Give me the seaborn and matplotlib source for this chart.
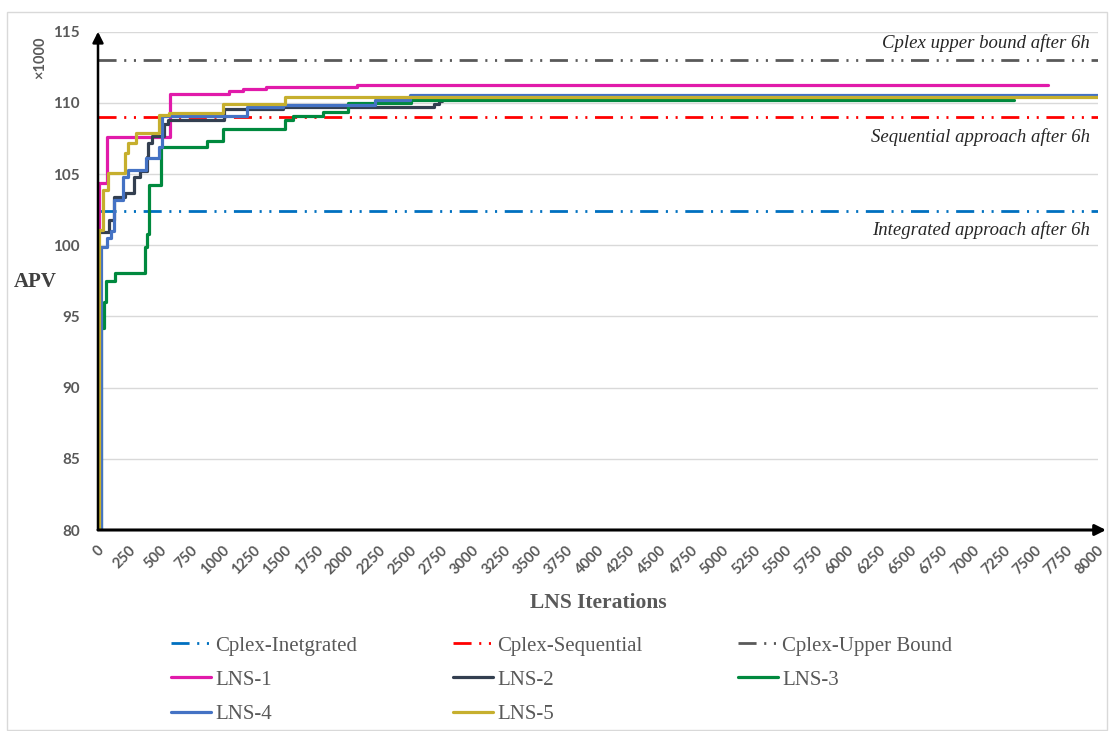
import numpy as np
import pandas as pd
import matplotlib
matplotlib.use("Agg")
import matplotlib.pyplot as plt
import matplotlib.transforms as mtransforms
import seaborn as sns
from matplotlib.patches import Rectangle

sns.set_theme(style="white")
plt.rcParams['font.family'] = ['Liberation Serif', 'DejaVu Serif']
plt.rcParams['lines.scale_dashes'] = False

# ---------------- data ----------------
cplex_labels = ["Cplex-Inetgrated", "Cplex-Sequential", "Cplex-Upper Bound"]
cplex_values = [102.4, 109.0, 113.0]
cplex_x = [0, 8000]

lns1_x = [0, 2, 5, 75, 575, 1050, 1160, 1340, 2070, 7600]
lns1_y = [80, 101.1, 104.4, 107.6, 110.65, 110.85, 111.0, 111.1, 111.25, 111.25]

lns2_x = [0, 3, 90, 130, 215, 290, 335, 390, 400, 430, 530, 560, 1010, 1480, 2690, 2725, 2750]
lns2_y = [80, 100.9, 101.8, 103.4, 103.65, 104.8, 105.2, 106.2, 107.2, 107.7, 108.55, 108.8,
          109.6, 109.7, 109.9, 110.1, 110.1]

lns3_x = [0, 20, 45, 67, 134, 374, 395, 410, 500, 870, 1000, 1494, 1560, 1800, 2000, 2500, 7330]
lns3_y = [80, 94.2, 96.0, 97.5, 98.05, 99.9, 100.8, 104.25, 106.9, 107.3, 108.2, 108.8, 109.05,
          109.37, 110.0, 110.22, 110.22]

lns4_x = [0, 20, 75, 105, 130, 200, 240, 385, 490, 515, 1190, 1480, 2215, 2495, 8000]
lns4_y = [80, 99.9, 100.5, 101.0, 103.2, 104.8, 105.3, 106.1, 106.9, 109.1, 109.7, 109.85,
          110.2, 110.58, 110.58]

lns5_x = [0, 5, 40, 80, 215, 240, 305, 490, 570, 1000, 1495, 8000]
lns5_y = [80, 101.1, 103.9, 105.1, 106.5, 107.2, 107.85, 109.15, 109.3, 109.95, 110.42, 110.42]

lns_labels = ["LNS-1", "LNS-2", "LNS-3", "LNS-4", "LNS-5"]
lns_series = [(lns1_x, lns1_y), (lns2_x, lns2_y), (lns3_x, lns3_y), (lns4_x, lns4_y), (lns5_x, lns5_y)]

x_ticks = list(range(0, 8001, 250))
y_ticks = list(range(80, 116, 5))

annotation_texts = ["Cplex upper bound after 6h", "Sequential approach after 6h",
                    "Integrated approach after 6h"]

# ---------------- styles ----------------
cplex_colors = ["#0070C0", "#FF0000", "#595959"]
lns_colors = ["#E11AAA", "#333F50", "#00893E", "#4472C4", "#C6AF2E"]
dash_pat = (0, (13, 5.5, 1.5, 5.5, 1.5, 5.5))
GRAY = "#595959"

W, H = 1110, 731
fig = plt.figure(figsize=(W / 100, H / 100), dpi=100)
ax = fig.add_axes([98 / W, 1 - 530 / H, 1000 / W, (530 - 31.7) / H])

for lab, val, col in zip(cplex_labels, cplex_values, cplex_colors):
    df = pd.DataFrame({"x": cplex_x, "y": [val, val]})
    sns.lineplot(data=df, x="x", y="y", ax=ax, color=col, lw=2.0, linestyle=dash_pat,
                 label=lab, estimator=None, sort=False)

for lab, (xs, ys), col in zip(lns_labels, lns_series, lns_colors):
    df = pd.DataFrame({"x": xs, "y": ys})
    sns.lineplot(data=df, x="x", y="y", ax=ax, color=col, lw=2.3, drawstyle="steps-post",
                 label=lab, estimator=None, sort=False)

ax.set_xlim(0, 8000)
ax.set_ylim(80, 115)
ax.set_xticks(x_ticks)
ax.set_yticks(y_ticks)
ax.set_xticklabels([str(t) for t in x_ticks], rotation=45, ha="right", va="center",
                   rotation_mode="anchor", fontsize=10.5, fontweight="bold", color=GRAY,
                   family="Lato")
ax.set_yticklabels([str(t) for t in y_ticks], fontsize=11, fontweight="bold", color=GRAY,
                   family="Lato")
ax.tick_params(axis="x", length=0, pad=9)
ax.tick_params(axis="y", length=0, pad=13)
shift = mtransforms.ScaledTranslation(4 / 100, -6 / 100, fig.dpi_scale_trans)
for lbl in ax.get_xticklabels():
    lbl.set_transform(lbl.get_transform() + shift)
ax.yaxis.grid(True, color="#D9D9D9", lw=1)
ax.xaxis.grid(False)
for s in ax.spines.values():
    s.set_visible(False)
ax.set_xlabel("")
ax.set_ylabel("")

# axis arrows
ax.annotate("", xy=(1.008, 0), xytext=(0, 0), xycoords="axes fraction",
            arrowprops=dict(arrowstyle="-|>", color="black", lw=2.2, mutation_scale=16,
                            shrinkA=0, shrinkB=0))
ax.annotate("", xy=(0, 1.0), xytext=(0, 0), xycoords="axes fraction",
            arrowprops=dict(arrowstyle="-|>", color="black", lw=1.8, mutation_scale=16,
                            shrinkA=0, shrinkB=0))

# annotations
ann_kw = dict(ha="right", va="center", style="italic", fontsize=13.5, color="#262626",
              family="Liberation Serif")
for txt, ypx in zip(annotation_texts, [43, 137, 230]):
    fig.text(1090 / W, 1 - ypx / H, txt, **ann_kw)

# axis titles
fig.text(35 / W, 1 - 282 / H, "APV", ha="center", va="center", fontsize=15,
         fontweight="bold", color="#404040", family="Liberation Serif")
fig.text(40 / W, 1 - 58 / H, "×1000", ha="center", va="center", rotation=90, fontsize=10.5,
         fontweight="bold", color=GRAY, family="Lato")
fig.text(598 / W, 1 - 603 / H, "LNS Iterations", ha="center", va="center", fontsize=15.5,
         fontweight="bold", color=GRAY, family="Liberation Serif")

# legend (row-major order like the original)
handles, labels = ax.get_legend_handles_labels()
ax.get_legend().remove()
hmap = dict(zip(labels, handles))
order = ["Cplex-Inetgrated", "LNS-1", "LNS-4",
         "Cplex-Sequential", "LNS-2", "LNS-5",
         "Cplex-Upper Bound", "LNS-3"]
leg = fig.legend([hmap[k] for k in order], order, loc="upper left",
                 bbox_to_anchor=(171 / W, 1 - 636 / H), ncol=3, frameon=False,
                 fontsize=15, handlelength=1.92, handletextpad=0.2, columnspacing=4.6,
                 labelspacing=0.7, borderaxespad=0, borderpad=0)
for t in leg.get_texts():
    t.set_color(GRAY)

# outer chart border
fig.patches.append(Rectangle((7 / W, 0.002), 1100 / W, 1 - 12 / H - 0.002,
                             transform=fig.transFigure, fill=False,
                             edgecolor="#D9D9D9", lw=1))

fig.savefig("out.png", dpi=100)
